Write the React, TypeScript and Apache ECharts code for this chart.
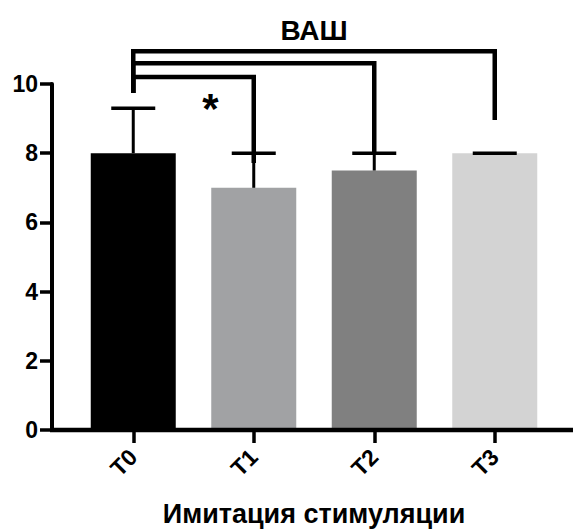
import React, { useEffect, useRef } from "react";
import * as echarts from "echarts";

const categories = ["T0", "T1", "T2", "T3"];
const means = [8, 7, 7.5, 8];
const errorUpper = [9.3, 8, 8, 8];
const barColors = ["#000000", "#a1a2a4", "#808080", "#d3d3d3"];
const yMin = 0;
const yMax = 10;
const yInterval = 2;
// [fromIndex, toIndex, bracketLevel, fromLegBottom, toLegBottom]
const brackets = [
  [0, 3, 10.95, 9.74, 8.96],
  [0, 2, 10.6, 9.74, 8.0],
  [0, 1, 10.2, 9.74, 7.72],
];
// [fromIndex, toIndex, fraction between, value]
const stars = [[0, 1, 0.64, 9.3]];
const titleText = "ВАШ";
const xAxisName = "Имитация стимуляции";

const FONT = "'Liberation Sans', Arial, Helvetica, sans-serif";

export default function App() {
  const ref = useRef<HTMLDivElement>(null);
  useEffect(() => {
    if (!ref.current) return;
    const chart = echarts.init(ref.current, null, { renderer: "svg" });
    const option: any = {
      animation: false,
      backgroundColor: "#ffffff",
      grid: { left: 73, right: 18, top: 84, bottom: 102, containLabel: false },
      graphic: [
        {
          type: "text",
          x: 314,
          y: 30,
          style: {
            text: titleText,
            fontSize: 28,
            fontWeight: "bold",
            fontFamily: FONT,
            fill: "#000",
            align: "center",
            verticalAlign: "middle",
            textAlign: "center",
            textVerticalAlign: "middle",
          },
        },
      ],
      xAxis: {
        type: "category",
        data: categories,
        boundaryGap: true,
        axisLine: { show: false },
        axisTick: {
          show: true,
          alignWithLabel: true,
          length: 13,
          lineStyle: { color: "#000", width: 3.5 },
        },
        axisLabel: {
          rotate: 45,
          margin: 23,
          fontSize: 23,
          fontWeight: "bold",
          fontFamily: FONT,
          color: "#000",
        },
        name: xAxisName,
        nameLocation: "middle",
        nameGap: 70,
        nameTextStyle: {
          fontSize: 27,
          fontWeight: "bold",
          fontFamily: FONT,
          color: "#000",
        },
        splitLine: { show: false },
      },
      yAxis: {
        type: "value",
        min: yMin,
        max: yMax,
        interval: yInterval,
        offset: 21,
        axisLine: { show: true, lineStyle: { color: "#000", width: 4 } },
        axisTick: { show: true, length: 12, lineStyle: { color: "#000", width: 3.5 } },
        axisLabel: {
          margin: 14,
          fontSize: 23,
          fontWeight: "bold",
          fontFamily: FONT,
          color: "#000",
        },
        splitLine: { show: false },
      },
      series: [
        {
          type: "bar",
          data: means.map((v, i) => ({ value: v, itemStyle: { color: barColors[i] } })),
          barWidth: 85,
          z: 2,
        },
        {
          type: "custom",
          z: 3,
          clip: false,
          data: [[0, 0]],
          renderItem: (params: any, api: any) => {
            const y = api.coord([0, 0])[1];
            const left = params.coordSys.x - 21 - 2;
            return {
              type: "line",
              shape: { x1: left, y1: y, x2: api.getWidth(), y2: y },
              style: { stroke: "#000", lineWidth: 4.5 },
            };
          },
        },
        {
          type: "custom",
          z: 4,
          clip: false,
          data: means.map((m, i) => [i, m, errorUpper[i]]),
          renderItem: (params: any, api: any) => {
            const i = api.value(0);
            const p0 = api.coord([i, api.value(1)]);
            const p1 = api.coord([i, api.value(2)]);
            const children: any[] = [];
            if (p0[1] - p1[1] > 0.5) {
              children.push({
                type: "line",
                shape: { x1: p0[0], y1: p0[1], x2: p1[0], y2: p1[1] },
                style: { stroke: "#000", lineWidth: 3 },
              });
            }
            children.push({
              type: "line",
              shape: { x1: p1[0] - 22, y1: p1[1], x2: p1[0] + 22, y2: p1[1] },
              style: { stroke: "#000", lineWidth: 3.5 },
            });
            return { type: "group", children };
          },
        },
        {
          type: "custom",
          z: 5,
          clip: false,
          data: brackets,
          renderItem: (params: any, api: any) => {
            const from = api.value(0);
            const to = api.value(1);
            const lvl = api.value(2);
            const a = api.coord([from, api.value(3)]);
            const aTop = api.coord([from, lvl]);
            const bTop = api.coord([to, lvl]);
            const b = api.coord([to, api.value(4)]);
            return {
              type: "polyline",
              shape: { points: [a, aTop, bTop, b] },
              style: { stroke: "#000", lineWidth: 4.5, fill: null, lineJoin: "miter" },
            };
          },
        },
        {
          type: "custom",
          z: 5,
          clip: false,
          data: stars,
          renderItem: (params: any, api: any) => {
            const a = api.coord([api.value(0), api.value(3)]);
            const b = api.coord([api.value(1), api.value(3)]);
            const f = api.value(2);
            return {
              type: "text",
              x: a[0] + (b[0] - a[0]) * f,
              y: a[1],
              style: {
                text: "*",
                fontSize: 42,
                fontWeight: "bold",
                fontFamily: FONT,
                fill: "#000",
                align: "center",
                verticalAlign: "middle",
                textAlign: "center",
                textVerticalAlign: "middle",
              },
            };
          },
        },
      ],
    };
    chart.setOption(option);
    return () => chart.dispose();
  }, []);
  return (
    <div
      ref={ref}
      style={{ position: "fixed", left: 0, top: 0, width: 573, height: 532, background: "#fff" }}
    />
  );
}
